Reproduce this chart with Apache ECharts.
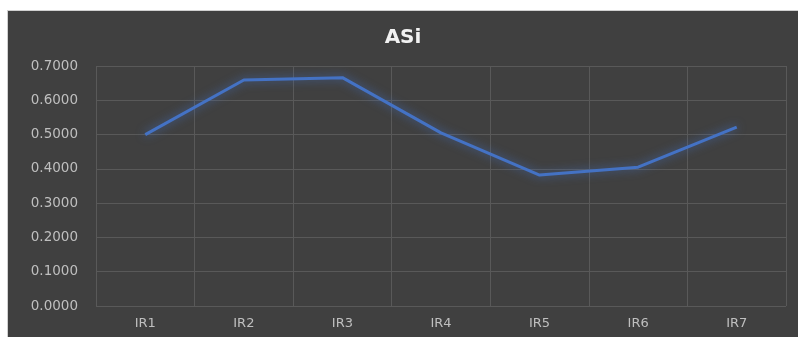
<!DOCTYPE html>
<html>
<head>
<meta charset="utf-8">
<script src="https://cdn.jsdelivr.net/npm/echarts@6/dist/echarts.min.js"></script>
<style>
  html, body { margin: 0; padding: 0; background: #fff; }
  #chart {
    position: absolute;
    left: 7px;
    top: 10px;
    width: 791px;
    height: 327px;
    border-left: 1px solid #d0d0d0;
    border-top: 1px solid #d0d0d0;
    box-sizing: border-box;
  }
</style>
</head>
<body>
<div id="chart"></div>
<script>
const categories = ['IR1', 'IR2', 'IR3', 'IR4', 'IR5', 'IR6', 'IR7']
const asiValues = [0.500, 0.659, 0.666, 0.505, 0.382, 0.405, 0.522]
const yTicks = { min: 0, max: 0.7, interval: 0.1 }

const myChart = echarts.init(document.getElementById('chart'))
const textColor = '#bfbfbf'
const gridColor = '#595959'
const fontFamily = 'DejaVu Sans'

const option = {
  backgroundColor: '#404040',
  animation: false,
  title: {
    text: 'ASi',
    left: 'center',
    top: 12,
    textStyle: {
      color: '#f2f2f2',
      fontSize: 20,
      fontWeight: 'bold',
      fontFamily
    }
  },
  grid: {
    left: 88,
    right: 12,
    top: 55,
    bottom: 31
  },
  xAxis: {
    type: 'category',
    data: categories,
    boundaryGap: true,
    axisLine: { show: false },
    axisTick: { show: false },
    axisLabel: {
      color: textColor,
      fontSize: 13,
      fontFamily,
      margin: 11
    },
    splitLine: {
      show: true,
      interval: 0,
      lineStyle: { color: gridColor, width: 1 }
    }
  },
  yAxis: {
    type: 'value',
    min: yTicks.min,
    max: yTicks.max,
    interval: yTicks.interval,
    axisLine: { show: false },
    axisTick: { show: false },
    axisLabel: {
      color: textColor,
      fontSize: 13.5,
      fontFamily,
      margin: 18,
      formatter: v => v.toFixed(4)
    },
    splitLine: {
      lineStyle: { color: gridColor, width: 1 }
    }
  },
  series: [
    {
      name: 'ASi',
      type: 'line',
      data: asiValues,
      symbol: 'none',
      lineStyle: {
        color: '#4472c4',
        width: 3,
        shadowColor: 'rgba(68, 114, 196, 0.8)',
        shadowBlur: 10
      }
    }
  ]
}

myChart.setOption(option)
</script>
</body>
</html>
